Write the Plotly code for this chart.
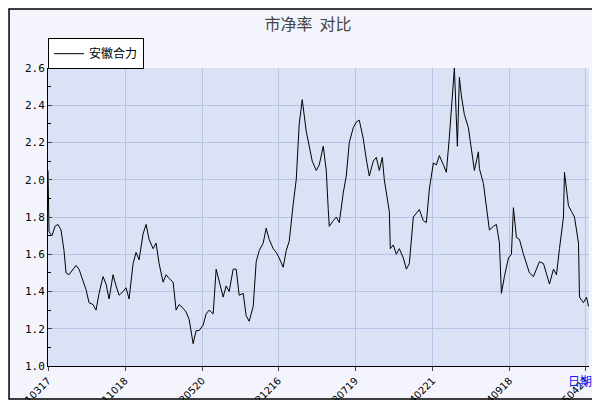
import plotly.graph_objects as go

# trading-day index (approx) and price-to-book values
day = [0, 1, 4, 7, 10, 13, 16, 18, 21, 25, 28, 31, 35, 38, 41, 45, 48, 51, 55, 58,
       61, 65, 68, 71, 75, 78, 81, 85, 88, 91, 95, 98, 101, 105, 108, 111, 115, 118, 121, 125,
       128, 131, 135, 138, 141, 145, 148, 151, 155, 158, 161, 165, 168, 171, 175, 178, 181, 185, 188, 191,
       195, 198, 201, 205, 208, 211, 215, 218, 221, 225, 228, 231, 235, 238, 241, 245, 248, 251, 254, 258,
       261, 264, 268, 271, 275, 278, 280, 281, 285, 288, 291, 295, 298, 301, 305, 308, 311, 315, 318, 321,
       325, 328, 331, 334, 336, 338, 341, 342, 345, 348, 351, 355, 358, 361, 365, 368, 371, 375, 378, 381,
       385, 388, 391, 395, 398, 401, 405, 406, 409, 411, 413, 416, 420, 423, 426, 430, 431, 435, 438, 441,
       445, 448, 451, 453, 456, 460, 463, 465, 468, 471, 475, 478, 481, 485, 488, 491, 495, 498, 501, 505,
       508, 511, 515, 516, 520, 523, 526, 530, 531, 535, 538, 540]
pb = [2.05, 1.72, 1.70, 1.75, 1.76, 1.73, 1.62, 1.50, 1.49, 1.52, 1.54, 1.52, 1.45, 1.41, 1.34, 1.33, 1.30, 1.39, 1.48, 1.44,
      1.36, 1.49, 1.43, 1.38, 1.40, 1.42, 1.36, 1.55, 1.61, 1.57, 1.71, 1.76, 1.68, 1.63, 1.66, 1.55, 1.45, 1.49, 1.47, 1.45,
      1.30, 1.33, 1.31, 1.29, 1.25, 1.12, 1.19, 1.19, 1.22, 1.28, 1.30, 1.28, 1.52, 1.45, 1.37, 1.43, 1.40, 1.52, 1.52, 1.38,
      1.39, 1.27, 1.24, 1.32, 1.56, 1.62, 1.66, 1.74, 1.68, 1.63, 1.61, 1.58, 1.53, 1.62, 1.67, 1.87, 2.00, 2.30, 2.43, 2.26,
      2.18, 2.10, 2.05, 2.08, 2.18, 2.05, 1.84, 1.75, 1.78, 1.80, 1.77, 1.93, 2.02, 2.20, 2.28, 2.31, 2.32, 2.22, 2.11, 2.02,
      2.10, 2.12, 2.05, 2.12, 2.00, 1.94, 1.83, 1.63, 1.65, 1.60, 1.63, 1.58, 1.52, 1.55, 1.80, 1.82, 1.84, 1.78, 1.77, 1.95,
      2.09, 2.08, 2.13, 2.08, 2.04, 2.23, 2.50, 2.60, 2.18, 2.55, 2.45, 2.35, 2.28, 2.15, 2.05, 2.15, 2.06, 1.98, 1.84, 1.73,
      1.75, 1.76, 1.66, 1.39, 1.48, 1.58, 1.60, 1.85, 1.69, 1.68, 1.60, 1.55, 1.50, 1.48, 1.52, 1.56, 1.55, 1.50, 1.44, 1.52,
      1.49, 1.63, 1.80, 2.04, 1.86, 1.83, 1.80, 1.66, 1.37, 1.34, 1.37, 1.32]

tick_days = [0, 77, 154, 230, 307, 384, 461, 537]
tick_labels = ['20210317', '20211018', '20220520', '20221216', '20230719', '20240221', '20240918', '20250423']

fig = go.Figure()
fig.add_trace(go.Scatter(x=day, y=pb, mode='lines', name='安徽合力',
                         line=dict(color='black', width=1)))

fig.update_layout(
    width=600, height=400,
    margin=dict(l=40, r=19, t=60, b=42, autoexpand=False),
    paper_bgcolor='#f4f5fc', plot_bgcolor='#dce2f6',
    font=dict(family='DejaVu Sans', color='black'),
    title=dict(text='市净率  对比', x=0.5, xanchor='center', y=0.96, yanchor='middle',
               font=dict(size=16, color='#444', family='Noto Sans CJK SC')),
    showlegend=True,
    legend=dict(x=0, xanchor='left', y=1.1, yanchor='top', bgcolor='white',
                bordercolor='black', borderwidth=1, font=dict(size=12, family='Noto Sans CJK SC'),
                itemwidth=30, tracegroupgap=0),
    shapes=[
        dict(type='rect', xref='paper', yref='paper', x0=-0.072, x1=1.0185, y0=-0.111, y1=1.198,
             line=dict(color='black', width=1.5), layer='below'),
    ],
    annotations=[
        dict(text='日期', xref='paper', yref='paper', x=0.983, y=-0.047, showarrow=False,
             font=dict(color='#1a1aff', size=12, family='Noto Sans CJK SC'),
             xanchor='center', yanchor='middle'),
    ],
)
fig.update_xaxes(range=[0, 540.5], tickvals=tick_days, ticktext=tick_labels, tickangle=-45,
                 showgrid=True, gridcolor='#b8c4e6', zeroline=False, showline=True, automargin=False,
                 linecolor='black', ticks='outside', ticklen=4, tickfont=dict(size=10))
fig.update_yaxes(range=[1.0, 2.6], dtick=0.2, tickformat='.1f', showgrid=True, gridcolor='#b8c4e6',
                 zeroline=False, showline=True, linecolor='black', ticks='inside', ticklen=4, automargin=False,
                 tickfont=dict(size=11, family='DejaVu Sans Mono'),
                 minor=dict(dtick=0.1, ticks='inside', ticklen=3, tickcolor='black'))

fig.write_html("out.html")
